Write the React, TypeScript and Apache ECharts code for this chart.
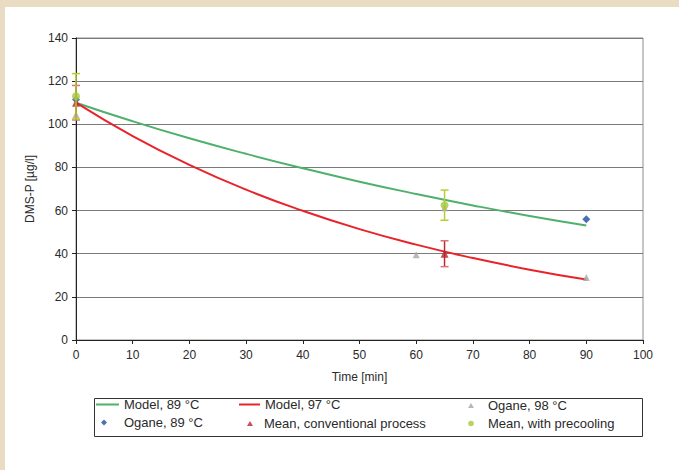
import React, { useEffect, useRef } from "react";
import * as echarts from "echarts";

const modelTime = [0, 10, 20, 30, 40, 50, 60, 70, 80, 90];
const model89 = [110, 101.4, 93.5, 86.3, 79.6, 73.4, 67.7, 62.4, 57.5, 53.1];
const model97 = [110, 94.5, 81.2, 69.7, 59.9, 51.4, 44.2, 38.0, 32.6, 28.0];

const ogane98: [number, number][] = [[0, 104.5], [60, 39.5], [65, 61.3], [90, 29]];
const ogane89: [number, number][] = [[0, 111.5], [90, 56]];
const meanConv: [number, number][] = [[0, 110], [65, 40]];
const meanConvErr = [8, 6];
const meanPre: [number, number][] = [[0, 113], [65, 62.5]];
const meanPreErr = [10.5, 7];

const xTicks = { min: 0, max: 100, interval: 10 };
const yTicks = { min: 0, max: 140, interval: 20 };

const FONT = "'Liberation Sans', Arial, sans-serif";

// legend icons: shape centred in a padded box (the extra M points set the box)
const ICON_TRI_24 = "path://M0,0 M24,7 M12,1 L15,6 L9,6 Z";
const ICON_DIA_30 = "path://M0,0 M30,8 M15,1 L18,4 L15,7 L12,4 Z";
const ICON_TRI_18 = "path://M0,0 M18,7 M9,1 L12,6 L6,6 Z";
const ICON_CIR_24 = "path://M0,0 M24,7 M9.2,3.5 A2.8,2.8 0 1 0 14.8,3.5 A2.8,2.8 0 1 0 9.2,3.5 Z";

function errBar(color: string, capColor: string) {
  return (params: any, api: any) => {
    const x = api.value(0);
    const lo = api.value(1);
    const hi = api.value(2);
    const pHi = api.coord([x, hi]);
    const pLo = api.coord([x, lo]);
    const w = 4;
    return {
      type: "group",
      children: [
        { type: "line", shape: { x1: pHi[0], y1: pHi[1], x2: pLo[0], y2: pLo[1] }, style: { stroke: color, lineWidth: 1.5 } },
        { type: "line", shape: { x1: pHi[0] - w, y1: pHi[1], x2: pHi[0] + w, y2: pHi[1] }, style: { stroke: capColor, lineWidth: 1.5 } },
        { type: "line", shape: { x1: pLo[0] - w, y1: pLo[1], x2: pLo[0] + w, y2: pLo[1] }, style: { stroke: capColor, lineWidth: 1.5 } },
      ],
    };
  };
}

export default function App() {
  const ref = useRef<HTMLDivElement>(null);
  useEffect(() => {
    if (!ref.current) return;
    const chart = echarts.init(ref.current, undefined, { renderer: "svg" });
    const legendBase = (
      name: string,
      icon: string,
      left: number,
      top: number,
      w: number,
      h: number
    ) => ({
      data: [{ name, icon }],
      left,
      top,
      padding: 0,
      itemWidth: w,
      itemHeight: h,
      symbolKeepAspect: false,
      selectedMode: false,
      textStyle: { fontFamily: FONT, fontSize: 13, color: "#2a2a2a" },
    });
    chart.setOption({
      animation: false,
      backgroundColor: "#ffffff",
      textStyle: { fontFamily: FONT },
      grid: { left: 71, top: 31, right: 36, bottom: 130, show: true, borderColor: "#8c8c8c", borderWidth: 1 },
      xAxis: {
        type: "value",
        min: xTicks.min,
        max: xTicks.max,
        interval: xTicks.interval,
        name: "Time [min]",
        nameLocation: "middle",
        nameGap: 31,
        nameTextStyle: { fontFamily: FONT, fontSize: 12, color: "#2a2a2a" },
        axisLine: { onZero: false, lineStyle: { color: "#222", width: 1 } },
        axisTick: { show: true, length: 4, lineStyle: { color: "#222" } },
        axisLabel: { fontFamily: FONT, fontSize: 12, color: "#2a2a2a", margin: 9 },
        splitLine: { show: false },
      },
      yAxis: {
        type: "value",
        min: yTicks.min,
        max: yTicks.max,
        interval: yTicks.interval,
        name: "DMS-P [µg/l]",
        nameLocation: "middle",
        nameGap: 40,
        nameTextStyle: { fontFamily: FONT, fontSize: 12, color: "#2a2a2a" },
        axisLine: { show: true, onZero: false, lineStyle: { color: "#222", width: 1 } },
        axisTick: { show: true, length: 4, lineStyle: { color: "#222" } },
        axisLabel: { fontFamily: FONT, fontSize: 12, color: "#2a2a2a", margin: 8 },
        splitLine: { show: true, lineStyle: { color: "#7a7a7a", width: 1 } },
      },
      legend: [
        legendBase("Model, 89 °C", "rect", 91, 391, 23, 2),
        legendBase("Model, 97 °C", "rect", 234, 391, 21, 2),
        legendBase("Ogane, 98 °C", ICON_TRI_24, 454, 392, 24, 7),
        legendBase("Ogane, 89 °C", ICON_DIA_30, 84, 409, 30, 8),
        legendBase("Mean, conventional process", ICON_TRI_18, 236, 410, 18, 7),
        legendBase("Mean, with precooling", ICON_CIR_24, 454, 410, 24, 7),
      ],
      graphic: [
        {
          type: "rect",
          left: 87,
          top: 389,
          shape: { width: 548, height: 38 },
          style: { fill: "none", stroke: "#333", lineWidth: 1 },
        },
      ],
      series: [
        {
          name: "Model, 89 °C",
          type: "line",
          data: modelTime.map((t, i) => [t, model89[i]]),
          smooth: true,
          symbol: "none",
          lineStyle: { color: "#4fb06c", width: 2 },
          itemStyle: { color: "#4fb06c" },
          z: 2,
        },
        {
          name: "Model, 97 °C",
          type: "line",
          data: modelTime.map((t, i) => [t, model97[i]]),
          smooth: true,
          symbol: "none",
          lineStyle: { color: "#e8232b", width: 2 },
          itemStyle: { color: "#e8232b" },
          z: 2,
        },
        {
          name: "Ogane, 98 °C",
          type: "scatter",
          data: ogane98,
          symbol: "triangle",
          symbolSize: 7,
          itemStyle: { color: "#a6a6a6" },
          z: 3,
        },
        {
          name: "Ogane, 89 °C",
          type: "scatter",
          data: ogane89,
          symbol: "diamond",
          symbolSize: 8,
          itemStyle: { color: "#1d4f9e" },
          z: 3,
        },
        {
          name: "errConv",
          type: "custom",
          data: meanConv.map((p, i) => [p[0], p[1] - meanConvErr[i], p[1] + meanConvErr[i]]),
          renderItem: errBar("#c0282e", "#d9737b"),
          z: 4,
          silent: true,
        },
        {
          name: "Mean, conventional process",
          type: "scatter",
          data: meanConv,
          symbol: "triangle",
          symbolSize: 8,
          itemStyle: { color: "#b8242a" },
          z: 5,
        },
        {
          name: "errPre",
          type: "custom",
          data: meanPre.map((p, i) => [p[0], p[1] - meanPreErr[i], p[1] + meanPreErr[i]]),
          renderItem: errBar("#b4cf33", "#b4cf33"),
          z: 6,
          silent: true,
        },
        {
          name: "Mean, with precooling",
          type: "scatter",
          data: meanPre,
          symbol: "circle",
          symbolSize: 8,
          itemStyle: { color: "#a5c83a" },
          z: 7,
        },
      ],
    });
    return () => chart.dispose();
  }, []);
  return (
    <div style={{ position: "fixed", left: 0, top: 0, width: 679, height: 470, background: "#e9dcc3" }}>
      <div
        ref={ref}
        style={{ position: "absolute", left: 5, top: 7, width: 674, height: 463, background: "#ffffff" }}
      />
    </div>
  );
}
